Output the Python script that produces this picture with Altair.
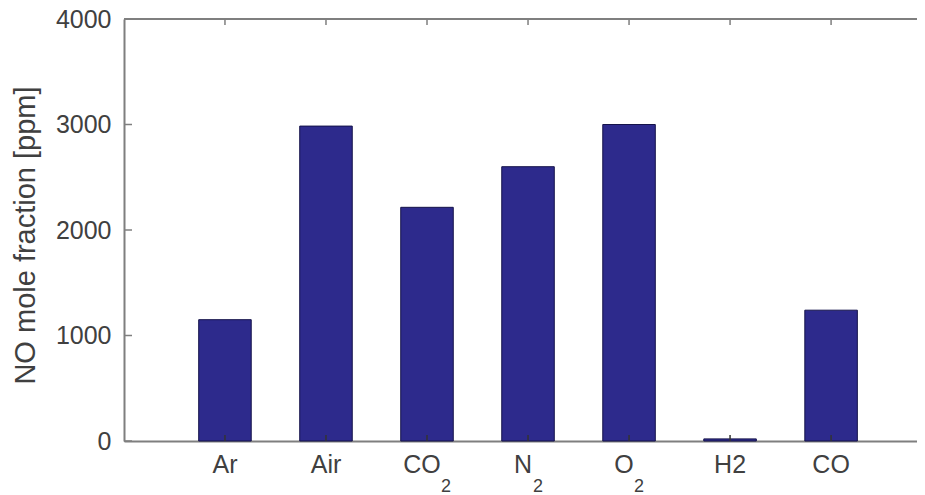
import altair as alt
import pandas as pd

categories = ["Ar", "Air", "CO2", "N2", "O2", "H2", "CO"]
label_base = ["Ar", "Air", "CO", "N", "O", "H2", "CO"]
label_sub = ["", "", "2", "2", "2", "", ""]
values = [1150, 2985, 2215, 2600, 3000, 20, 1240]
y_ticks = [0, 1000, 2000, 3000, 4000]
y_title = "NO mole fraction [ppm]"

W, H = 793, 422
FONT = "Liberation Sans"
GRAY = "#7f7f7f"
TXT = "#404040"
BAR = "#2d2a8c"
LFS = 25

bars_df = pd.DataFrame({"cat": categories, "val": values})
ticks_df = pd.DataFrame({"v": y_ticks})
lab_df = pd.DataFrame({"cat": categories, "base": label_base, "sub": label_sub})
top_df = pd.DataFrame({"v": [max(y_ticks)]})

xscale = alt.Scale(domain=categories, paddingInner=0.48, paddingOuter=0.665, align=0.556)
yscale = alt.Scale(domain=[0, 4000], nice=False)

x_axis = alt.Axis(title=None, ticks=False, labels=False, domain=True,
                  domainColor=GRAY, domainWidth=2)
y_axis = alt.Axis(title=y_title, values=y_ticks, format="d", ticks=False, grid=False,
                  domain=True, domainColor=GRAY, domainWidth=2, labelFont=FONT,
                  labelFontSize=LFS, labelColor=TXT, labelPadding=13, titleFont=FONT,
                  titleFontSize=29, titleFontWeight="normal", titleColor=TXT,
                  titlePadding=15, titleY=216)

X = alt.X("cat:N", scale=xscale, sort=categories)

bars = alt.Chart(bars_df).mark_bar(color=BAR, stroke="#15134a", strokeWidth=1).encode(
    x=alt.X("cat:N", scale=xscale, axis=x_axis, sort=categories),
    y=alt.Y("val:Q", scale=yscale, axis=y_axis),
)

top_line = alt.Chart(top_df).mark_rule(color=GRAY, strokeWidth=2).encode(
    y=alt.Y("v:Q", scale=yscale)
)

y_tick_marks = alt.Chart(ticks_df).mark_rule(color=GRAY, strokeWidth=1.5).encode(
    y=alt.Y("v:Q", scale=yscale),
    x=alt.value(0), x2=alt.value(8),
)

x_top_ticks = alt.Chart(lab_df).mark_rule(color=GRAY, strokeWidth=1.5).encode(
    x=X, y=alt.value(0), y2=alt.value(6),
)

x_bot_ticks = alt.Chart(lab_df).mark_rule(color="#333333", strokeWidth=1.5).encode(
    x=X, y=alt.value(H - 6), y2=alt.value(H),
)

base_plain = alt.Chart(lab_df).transform_filter("datum.sub == ''").mark_text(
    font=FONT, fontSize=LFS, color=TXT, align="center", baseline="middle"
).encode(x=X, y=alt.value(H + 24), text="base:N")

base_sub = alt.Chart(lab_df).transform_filter("datum.sub != ''").mark_text(
    font=FONT, fontSize=LFS, color=TXT, align="center", baseline="middle", dx=-5
).encode(x=X, y=alt.value(H + 24), text="base:N")

sub_wide = alt.Chart(lab_df).transform_filter("datum.sub != '' && datum.base == 'CO'").mark_text(
    font=FONT, fontSize=18, color=TXT, align="left", baseline="alphabetic", dx=14
).encode(x=X, y=alt.value(H + 51), text="sub:N")

sub_narrow = alt.Chart(lab_df).transform_filter("datum.sub != '' && datum.base != 'CO'").mark_text(
    font=FONT, fontSize=18, color=TXT, align="left", baseline="alphabetic", dx=5
).encode(x=X, y=alt.value(H + 51), text="sub:N")

chart = alt.layer(
    bars, x_bot_ticks, top_line, y_tick_marks, x_top_ticks,
    base_plain, base_sub, sub_wide, sub_narrow
).properties(
    width=W, height=H,
    autosize=alt.AutoSizeParams(type="none"),
    padding={"left": 116, "top": 11, "right": 0, "bottom": 54},
).configure_view(stroke=None).configure(background="white")

chart.save("out.html", embed_options={"renderer": "svg", "actions": False})
